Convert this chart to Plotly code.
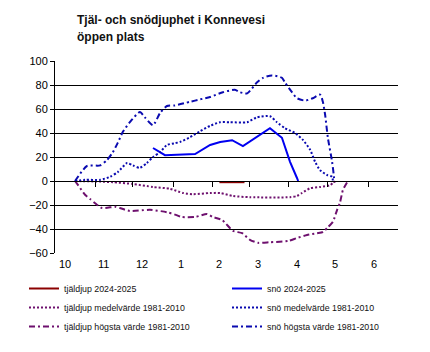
import plotly.graph_objects as go

# Month axis: index 0 = "10" (Oct) ... 8 = "6" (Jun)
month_pos = [0, 1, 2, 3, 4, 5, 6, 7, 8]
month_labels = ["10", "11", "12", "1", "2", "3", "4", "5", "6"]
tick_marks = [0.8, 1.76, 2.8, 3.83, 4.77, 5.8, 6.81, 7.85]

title_lines = ["Tjäl- och snödjuphet i Konnevesi", "öppen plats"]

# tjäldjup 2024-2025
frost_now_x = [4.0, 4.65]
frost_now_y = [-1, -1]

# snö 2024-2025
snow_now_x = [2.28, 2.46, 2.59, 3.37, 3.76, 4.02, 4.33, 4.61, 4.97, 5.31, 5.62, 5.83, 6.01, 6.04]
snow_now_y = [27.5, 24, 21.5, 22.5, 30, 32.5, 34, 29, 36.5, 44, 36, 16, 2.5, 0]

# tjäldjup medelvärde 1981-2010
frost_mean_x = [0.26, 0.91, 1.24, 1.76, 2.28, 2.72, 3.06, 3.32, 3.76, 4.02, 4.35, 4.79, 5.83, 6.01, 6.14, 6.35, 6.61, 6.87, 6.94, 7.02]
frost_mean_y = [0, -0.5, -1, -2.5, -5, -6.5, -10, -11, -10, -10, -12.5, -13.5, -13.5, -12.5, -10, -6, -5, -3.5, -1.5, 0]

# snö medelvärde 1981-2010
snow_mean_x = [0.26, 0.52, 0.91, 1.17, 1.37, 1.61, 1.76, 1.94, 2.12, 2.28, 2.46, 2.64, 2.85, 2.98, 3.24, 3.5, 3.76, 4.02, 4.27, 4.72, 4.97, 5.31, 5.49, 5.7, 5.96, 6.17, 6.35, 6.48, 6.61, 6.79, 6.92, 6.94]
snow_mean_y = [0, 1, 1, 3.5, 7.5, 15, 13, 11, 15, 20, 24, 30, 31.5, 32.5, 36.5, 41.5, 46, 49, 49, 49, 53, 54, 49, 44, 40, 34, 26, 16, 9, 5, 3.5, 0]

# tjäldjup högsta värde 1981-2010
frost_max_x = [0.26, 0.34, 0.52, 0.65, 0.78, 0.96, 1.3, 1.42, 1.68, 2.2, 2.64, 2.85, 3.03, 3.37, 3.68, 3.83, 4.07, 4.35, 4.59, 4.79, 5.0, 5.31, 5.78, 6.01, 6.27, 6.53, 6.68, 6.81, 6.94, 7.05, 7.12, 7.2, 7.31, 7.33]
frost_max_y = [0, -3.5, -11.5, -15, -18.5, -22.5, -21.5, -22.5, -25, -24, -26, -28, -30, -30, -27.5, -30, -32.5, -41.5, -43.5, -49, -51.5, -51, -50, -47.5, -45, -43.5, -42.5, -38.5, -34, -24, -18.5, -7.5, -1, 0]

# snö högsta värde 1981-2010
snow_max_x = [0.26, 0.57, 0.91, 1.09, 1.24, 1.37, 1.5, 1.68, 1.94, 2.07, 2.28, 2.46, 2.64, 2.85, 3.24, 3.5, 3.76, 4.09, 4.4, 4.53, 4.72, 4.97, 5.13, 5.36, 5.62, 5.7, 5.88, 6.01, 6.22, 6.42, 6.61, 6.68, 6.74, 6.81, 6.92, 6.97, 6.97]
snow_max_y = [0, 12.5, 13, 17.5, 24, 32, 41, 49, 57.5, 53, 46.5, 56.5, 62.5, 63, 66, 68, 70, 74, 76, 74, 73, 82, 86, 88, 86, 82, 74, 69, 67, 69, 72, 66, 55, 36, 16, 2.5, 0]

PURPLE = "#6E106E"
BLUE = "#0000F0"
NAVY = "#0A0AB0"
DARKRED = "#8B0000"
DOT = "2px,2px"
DASHDOT = "6px,3px,2px,3px"

fig = go.Figure()
fig.add_trace(go.Scatter(x=frost_now_x, y=frost_now_y, mode="lines", name="tjäldjup 2024-2025",
                         legend="legend", legendgroup="a",
                         line=dict(color=DARKRED, width=2)))
fig.add_trace(go.Scatter(x=frost_mean_x, y=frost_mean_y, mode="lines", name="tjäldjup medelvärde 1981-2010",
                         legend="legend", legendgroup="b",
                         line=dict(color=PURPLE, width=2, dash=DOT, shape="spline", smoothing=0.6)))
fig.add_trace(go.Scatter(x=frost_max_x, y=frost_max_y, mode="lines", name="tjäldjup högsta värde 1981-2010",
                         legend="legend", legendgroup="c",
                         line=dict(color=PURPLE, width=2, dash=DASHDOT, shape="spline", smoothing=0.6)))
fig.add_trace(go.Scatter(x=snow_now_x, y=snow_now_y, mode="lines", name="snö 2024-2025",
                         legend="legend2", legendgroup="d",
                         line=dict(color=BLUE, width=2)))
fig.add_trace(go.Scatter(x=snow_mean_x, y=snow_mean_y, mode="lines", name="snö medelvärde 1981-2010",
                         legend="legend2", legendgroup="e",
                         line=dict(color=NAVY, width=2, dash=DOT, shape="spline", smoothing=0.6)))
fig.add_trace(go.Scatter(x=snow_max_x, y=snow_max_y, mode="lines", name="snö högsta värde 1981-2010",
                         legend="legend2", legendgroup="f",
                         line=dict(color=NAVY, width=2, dash=DASHDOT, shape="spline", smoothing=0.6)))

xr = [-0.259, 8.627]
leg_common = dict(orientation="v", xref="container", yref="container", xanchor="left",
                  yanchor="top", tracegroupgap=1, font=dict(size=8.8, color="#111111"),
                  bgcolor="rgba(0,0,0,0)", traceorder="normal")

annotations = [
    dict(text="<b>%s</b>" % title_lines[0], xref="paper", yref="paper", x=(75-55)/343, y=1+(61-19.5)/192,
         xanchor="left", yanchor="middle", showarrow=False, font=dict(size=12, color="#111111")),
    dict(text="<b>%s</b>" % title_lines[1], xref="paper", yref="paper", x=(75-55)/343, y=1+(61-37)/192,
         xanchor="left", yanchor="middle", showarrow=False, font=dict(size=12, color="#111111")),
]
for pos, lab in zip(month_pos, month_labels):
    annotations.append(dict(text=lab, xref="x", yref="paper", x=pos, y=-(264-253)/192,
                            xanchor="center", yanchor="middle", showarrow=False,
                            font=dict(size=11, color="#000000")))

fig.update_layout(
    width=430, height=352,
    margin=dict(l=55, r=32, t=61, b=99, autoexpand=False),
    paper_bgcolor="white", plot_bgcolor="white",
    font=dict(family="Liberation Sans, Arial, sans-serif", color="#000000"),
    xaxis=dict(range=xr, anchor="free", position=0.375, showline=True, linecolor="black", linewidth=1,
               ticks="outside", ticklen=5, tickcolor="black", tickvals=tick_marks,
               showticklabels=False, showgrid=False, zeroline=False),
    yaxis=dict(range=[-60, 100], dtick=20, tick0=0, showgrid=True, gridcolor="black", gridwidth=1,
               showline=True, linecolor="black", linewidth=1, ticks="outside", ticklen=4,
               tickcolor="black", zeroline=False, tickfont=dict(size=11, color="#000000")),
    legend=dict(x=24/430, y=1-274/352, **leg_common),
    legend2=dict(x=227/430, y=1-274/352, **leg_common),
    showlegend=True,
    annotations=annotations,
)

fig.write_html("out.html")
